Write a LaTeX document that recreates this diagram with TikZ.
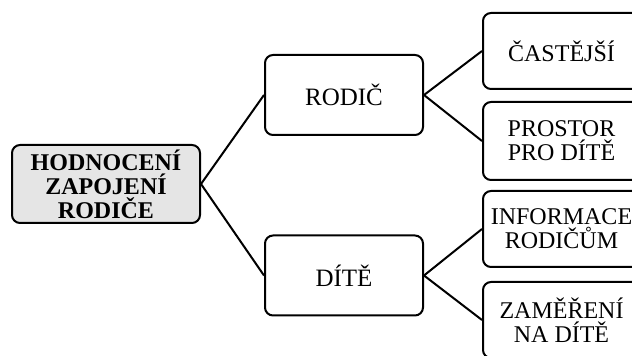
\documentclass[tikz,border=0pt]{standalone}
\usepackage{fontspec}
\setmainfont{Liberation Serif}
\begin{document}
\begin{tikzpicture}[x=1pt,y=1pt,
  box/.style={draw=black, line width=2pt, rounded corners=8pt, align=center, inner sep=2pt},
  rootbox/.style={box, fill=black!10, font=\fontsize{24}{24}\selectfont\bfseries, minimum width=188pt, minimum height=78pt},
  midbox/.style={box, fill=white, font=\fontsize{25}{25}\selectfont, minimum width=158pt, minimum height=80pt},
  leafbox/.style={box, fill=white, font=\fontsize{24}{24}\selectfont, minimum width=157pt, minimum height=76pt},
  link/.style={line width=2pt}]
\useasboundingbox (0,0) rectangle (632,356);
\clip (0,0) rectangle (632,356);
\node[rootbox] (root) at (106,172) {HODNOCENÍ\\ZAPOJENÍ\\RODIČE};
\node[midbox] (rodic) at (344,261) {RODIČ};
\node[midbox] (dite) at (344,80.5) {DÍTĚ};
\node[leafbox] (c1) at (561.5,305) {ČASTĚJŠÍ};
\node[leafbox, minimum height=78pt] (c2) at (561.5,215) {PROSTOR\\PRO DÍTĚ};
\node[leafbox] (c3) at (561.5,127) {INFORMACE\\RODIČŮM};
\node[leafbox] (c4) at (561.5,36) {ZAMĚŘENÍ\\NA DÍTĚ};
\draw[link] (root.east) -- (rodic.west);
\draw[link] (root.east) -- (dite.west);
\draw[link] (rodic.east) -- (c1.west);
\draw[link] (rodic.east) -- (c2.west);
\draw[link] (dite.east) -- (c3.west);
\draw[link] (dite.east) -- (c4.west);
\end{tikzpicture}
\end{document}
